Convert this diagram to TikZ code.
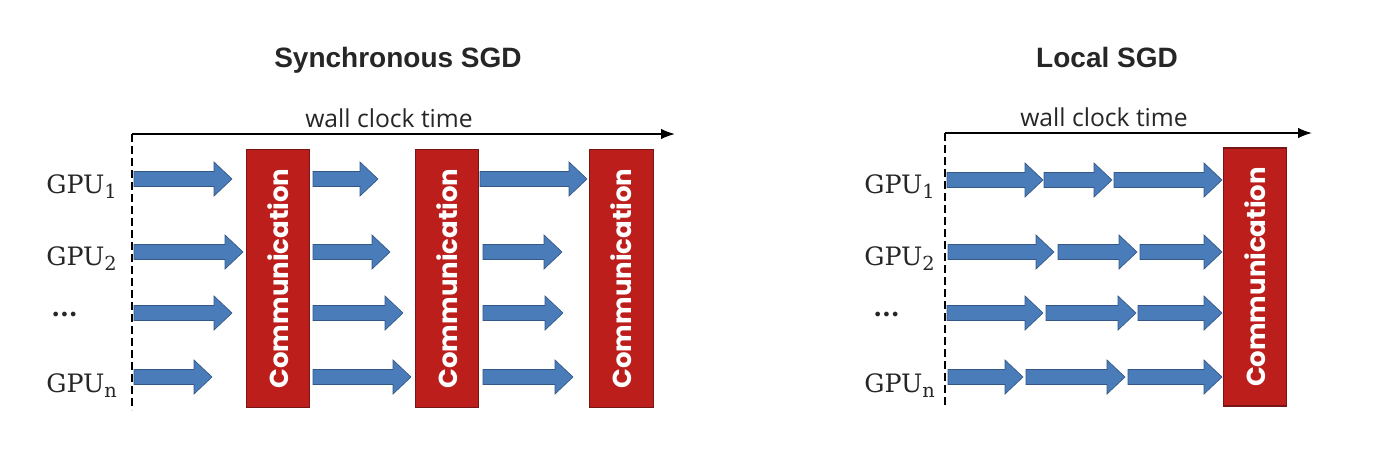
\documentclass[tikz,border=0pt]{standalone}
\usepackage{fontspec}
\setmainfont{DejaVu Serif}
\newfontfamily\titlefont{Liberation Sans}
\newfontfamily\wallfont{Open Sans}
\newfontfamily\commfont{Poppins}
\usetikzlibrary{arrows.meta}
\definecolor{blufill}{RGB}{74,124,186}
\definecolor{bluline}{RGB}{52,88,134}
\definecolor{redfill}{RGB}{188,30,28}
\definecolor{redline}{RGB}{120,22,22}
\definecolor{txtgray}{RGB}{38,38,38}
\newcommand\blockarrow[3]{%
  \filldraw[garrow] (#1,#3-7.5) -- (#2-18,#3-7.5) -- (#2-18,#3-17) -- (#2,#3)
    -- (#2-18,#3+17) -- (#2-18,#3+7.5) -- (#1,#3+7.5) -- cycle;}
\newcommand\gpulab[1]{GPU\raisebox{-0.45ex}{\fontsize{14.5}{16}\selectfont #1}}
\begin{document}
\begin{tikzpicture}[x=0.75pt,y=-0.75pt,
  garrow/.style={fill=blufill,draw=bluline,line width=0.5pt},
  commbox/.style={fill=redfill,draw=redline,line width=0.8pt,rotate=90,
     minimum width=194pt,minimum height=47.5pt,inner sep=0pt,
     text=white,font=\commfont\bfseries\fontsize{19.5}{22}\selectfont},
  axis/.style={line width=1.3pt,-{Latex[length=10.5pt,width=8pt]}},
  vdash/.style={line width=0.8pt,dash pattern=on 6pt off 3pt},
  title/.style={font=\titlefont\bfseries\fontsize{21}{25}\selectfont,text=txtgray,anchor=base,inner sep=0pt},
  wall/.style={font=\wallfont\fontsize{18.5}{22}\selectfont,text=txtgray,anchor=base,inner sep=0pt},
  gpu/.style={font=\fontsize{19}{22}\selectfont,anchor=base west,inner sep=0pt,text=black!85},
  dots/.style={font=\bfseries\fontsize{19}{22}\selectfont,anchor=base west,inner sep=0pt,text=black!85}
]
\useasboundingbox (0,0) rectangle (1394,458);
\fill[white] (0,0) rectangle (1394,458);

% ---------- titles
\node[title] (t1) at (398,67) {Synchronous SGD};
\node[title] (t2) at (1107,67) {Local SGD};

% ---------- left panel
\coordinate (lo) at (132,134);
\coordinate (lend) at (675,134);
\coordinate (lbot) at (132,410);
\draw[axis] (lo) -- (lend);
\draw[vdash] (lo) -- (lbot);
\node[wall] (w1) at (389,127) {wall clock time};

\node[gpu] (g11) at (46,193) {\gpulab{1}};
\node[gpu] (g12) at (46,265) {\gpulab{2}};
\node[dots] (g13) at (51,316) {...};
\node[gpu] (g1n) at (46,392) {\gpulab{n}};

\node[commbox] (c1) at (278,278.5) {Communication};
\node[commbox] (c2) at (447,278.5) {Communication};
\node[commbox] (c3) at (621.5,278.5) {Communication};

\blockarrow{134}{232}{179}
\blockarrow{313}{378}{179}
\blockarrow{480}{587}{179}
\blockarrow{134}{243}{252}
\blockarrow{313}{390}{252}
\blockarrow{483}{562}{252}
\blockarrow{134}{232}{313}
\blockarrow{313}{403}{313}
\blockarrow{483}{563}{313}
\blockarrow{134}{212}{377}
\blockarrow{313}{411}{377}
\blockarrow{483}{573}{377}

% ---------- right panel
\coordinate (ro) at (945,133);
\coordinate (rend) at (1312,133);
\coordinate (rbot) at (945,408);
\draw[axis] (ro) -- (rend);
\draw[vdash] (ro) -- (rbot);
\node[wall] (w2) at (1104,126) {wall clock time};

\node[gpu] (g21) at (864,193) {\gpulab{1}};
\node[gpu] (g22) at (864,265) {\gpulab{2}};
\node[dots] (g23) at (873,316) {...};
\node[gpu] (g2n) at (864,392) {\gpulab{n}};

\node[commbox,minimum width=193.5pt] (c4) at (1255,277) {Communication};

\blockarrow{947}{1043}{180}
\blockarrow{1044}{1112}{180}
\blockarrow{1114}{1222}{180}
\blockarrow{948}{1054}{252}
\blockarrow{1058}{1137}{252}
\blockarrow{1140}{1222}{252}
\blockarrow{947}{1043}{313}
\blockarrow{1046}{1136}{313}
\blockarrow{1138}{1222}{313}
\blockarrow{948}{1023}{377}
\blockarrow{1026}{1125}{377}
\blockarrow{1128}{1222}{377}
\end{tikzpicture}
\end{document}
